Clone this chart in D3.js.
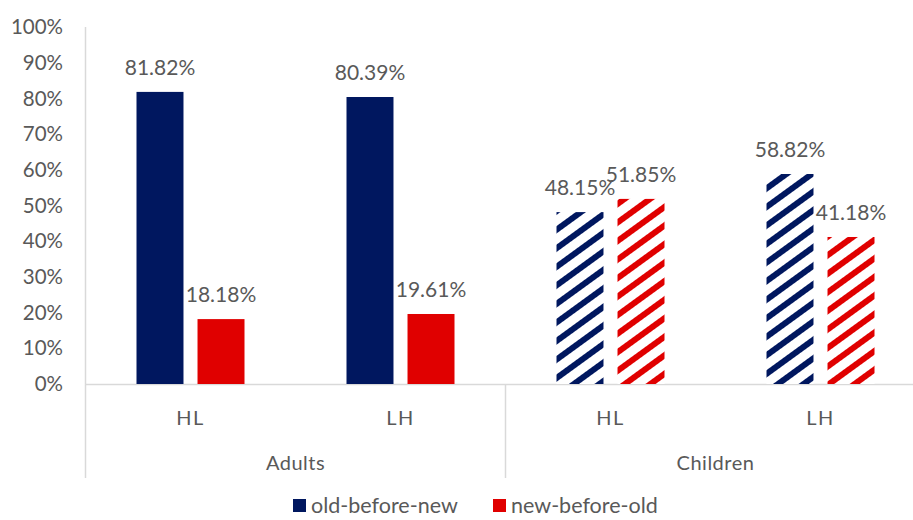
<!DOCTYPE html>
<html>
<head>
<meta charset="utf-8">
<script src="https://cdn.jsdelivr.net/npm/d3@7"></script>
<style>
  html, body { margin: 0; padding: 0; background: #fff; }
  svg { display: block; font-family: Lato, "Open Sans", sans-serif; }
</style>
</head>
<body>
<svg id="chart" width="913" height="520"></svg>
<script>
// ---- data ----
const groups = ["Adults", "Children"];
const conditions = ["HL", "LH"];
const seriesNames = ["old-before-new", "new-before-old"];
const oldBeforeNew = [81.82, 80.39, 48.15, 58.82];
const newBeforeOld = [18.18, 19.61, 51.85, 41.18];
const yTicks = [0, 10, 20, 30, 40, 50, 60, 70, 80, 90, 100];

// ---- styles ----
const colors = ["#00175f", "#e00000"];
const textColor = "#595959";
const axisColor = "#d9d9d9";

const svg = d3.select("#chart");
const left = 85.5, right = 925.5, y0 = 384, yTop = 27, axisBottom = 478;

const cats = [];
groups.forEach(g => conditions.forEach(c => cats.push({group: g, cond: c, key: g + "-" + c})));
const rows = cats.map((c, i) => ({...c, values: [oldBeforeNew[i], newBeforeOld[i]]}));

const x0 = d3.scaleBand().domain(cats.map(d => d.key)).range([left, right]).padding(0);
const xg = d3.scaleBand().domain(groups).range([left, right]).padding(0);
const x1 = d3.scaleBand().domain(seriesNames).range([-54, 54]).paddingInner(0.23).paddingOuter(0);
const y = d3.scaleLinear().domain([0, 100]).range([y0, yTop]);

// hatch patterns
const defs = svg.append("defs");
seriesNames.forEach((s, i) => {
  const p = defs.append("pattern")
    .attr("id", "hatch" + i)
    .attr("patternUnits", "userSpaceOnUse")
    .attr("width", 15).attr("height", 15)
    .attr("patternTransform", "rotate(-36)");
  p.append("rect").attr("width", 15).attr("height", 15).attr("fill", "#fff");
  p.append("rect").attr("y", 0).attr("width", 15).attr("height", 6).attr("fill", colors[i]);
});

// y tick labels
svg.append("g").selectAll("text").data(yTicks).join("text")
  .attr("x", 63).attr("y", d => y(d)).attr("dy", "0.35em")
  .attr("text-anchor", "end").attr("font-size", 20.5).attr("fill", textColor)
  .text(d => d + "%");

// axis lines
svg.append("line").attr("x1", 85.5).attr("x2", 85.5).attr("y1", yTop).attr("y2", axisBottom)
  .attr("stroke", axisColor).attr("stroke-width", 1.5);
svg.append("line").attr("x1", 85.5).attr("x2", 913).attr("y1", y0 + 0.5).attr("y2", y0 + 0.5)
  .attr("stroke", axisColor).attr("stroke-width", 1.5);
groups.forEach((g, i) => {
  if (i === 0) return;
  const xs = xg(g);
  svg.append("line").attr("x1", xs).attr("x2", xs).attr("y1", y0).attr("y2", axisBottom)
    .attr("stroke", axisColor).attr("stroke-width", 1.5);
});

// bars + labels
const gBars = svg.append("g");
rows.forEach(r => {
  const cx = x0(r.key) + x0.bandwidth() / 2;
  const hatched = r.group === "Children";
  seriesNames.forEach((s, i) => {
    const v = r.values[i];
    gBars.append("rect")
      .attr("x", cx + x1(s)).attr("width", x1.bandwidth())
      .attr("y", y(v)).attr("height", y(0) - y(v))
      .attr("fill", hatched ? `url(#hatch${i})` : colors[i]);
    gBars.append("text")
      .attr("x", cx + x1(s) + x1.bandwidth() / 2).attr("y", y(v) - 17)
      .attr("text-anchor", "middle").attr("font-size", 21).attr("fill", textColor)
      .text(v.toFixed(2) + "%");
  });
  svg.append("text").attr("x", cx).attr("y", 418).attr("dy", "0.35em")
    .attr("text-anchor", "middle").attr("font-size", 20).attr("fill", textColor)
    .attr("letter-spacing", 1.5)
    .text(r.cond);
});

// group labels
groups.forEach(g => {
  svg.append("text").attr("x", xg(g) + xg.bandwidth() / 2).attr("y", 463).attr("dy", "0.35em")
    .attr("text-anchor", "middle").attr("font-size", 20).attr("fill", textColor)
    .attr("letter-spacing", 0.5)
    .text(g);
});

// legend
const legendX = [293, 493];
seriesNames.forEach((s, i) => {
  svg.append("rect").attr("x", legendX[i]).attr("y", 499).attr("width", 13).attr("height", 13)
    .attr("fill", colors[i]);
  svg.append("text").attr("x", legendX[i] + 18).attr("y", 505).attr("dy", "0.35em")
    .attr("font-size", 21.5).attr("fill", textColor).text(s);
});
</script>
</body>
</html>
